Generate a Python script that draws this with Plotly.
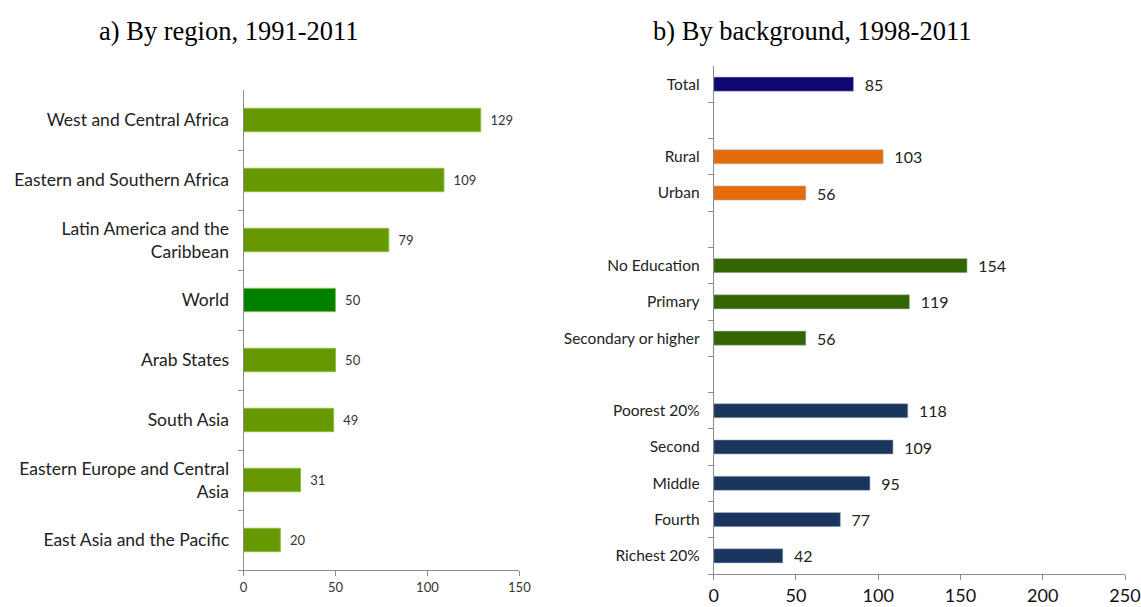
import plotly.graph_objects as go

# ---- data ----
region_names = ["West and Central Africa", "Eastern and Southern Africa", "Latin America and the Caribbean",
                "World", "Arab States", "South Asia", "Eastern Europe and Central Asia", "East Asia and the Pacific"]
region_labels = ["West and Central Africa", "Eastern and Southern Africa", "Latin America and the<br>Caribbean",
                 "World", "Arab States", "South Asia", "Eastern Europe and Central<br>Asia", "East Asia and the Pacific"]
region_values = [129, 109, 79, 50, 50, 49, 31, 20]
region_colors = ["#669900", "#669900", "#669900", "#008000", "#669900", "#669900", "#669900", "#669900"]

bg_names = ["Total", "gap1", "Rural", "Urban", "gap2", "No Education", "Primary", "Secondary or higher",
            "gap3", "Poorest 20%", "Second", "Middle", "Fourth", "Richest 20%"]
bg_labels = ["Total", "", "Rural", "Urban", "", "No Education", "Primary", "Secondary or higher",
             "", "Poorest 20%", "Second", "Middle", "Fourth", "Richest 20%"]
bg_cats = ["Total", "Rural", "Urban", "No Education", "Primary", "Secondary or higher",
           "Poorest 20%", "Second", "Middle", "Fourth", "Richest 20%"]
bg_values = [85, 103, 56, 154, 119, 56, 118, 109, 95, 77, 42]
bg_colors = ["#0f0873", "#e46c0a", "#e46c0a", "#336600", "#336600", "#336600",
             "#1b365d", "#1b365d", "#1b365d", "#1b365d", "#1b365d"]

W, H = 1141, 607
def fx(p): return min(1.0, p / W)
def py(p): return 1 - p / H

fig = go.Figure()
fig.add_trace(go.Bar(
    x=region_values, y=region_names, orientation="h",
    marker=dict(color=region_colors, line=dict(color="#8cbf3f", width=1)),
    text=[f"  {v}" for v in region_values], textposition="outside", constraintext="none",
    textfont=dict(family="Lato", size=13, color="#333333"),
    cliponaxis=False, xaxis="x", yaxis="y", showlegend=False, hoverinfo="skip",
))
fig.add_trace(go.Bar(
    x=bg_values, y=bg_cats, orientation="h",
    marker=dict(color=bg_colors, line=dict(color="#b0b8c8", width=0.6)),
    text=[f"  {v}" for v in bg_values], textposition="outside", constraintext="none",
    textfont=dict(family="Lato", size=16, color="#222222"),
    cliponaxis=False, xaxis="x2", yaxis="y2", showlegend=False, hoverinfo="skip",
))
# blank spacer categories on the right axis (no bars drawn)
fig.add_trace(go.Bar(x=[None, None, None], y=["gap1", "gap2", "gap3"], orientation="h",
                     xaxis="x2", yaxis="y2", showlegend=False, hoverinfo="skip"))

axis_line = dict(showline=True, linecolor="#8c8c8c", linewidth=1, showgrid=False, zeroline=False,
                 ticks="outside", ticklen=5, tickcolor="#8c8c8c")

fig.update_layout(
    width=W, height=H, plot_bgcolor="white", paper_bgcolor="white",
    margin=dict(l=0, r=0, t=0, b=0), bargap=0.61,
    xaxis=dict(domain=[fx(243), fx(524)], range=[0, 150], tickvals=[0, 50, 100, 150],
               anchor="y", tickfont=dict(family="Lato", size=13, color="#333333"), **axis_line),
    yaxis=dict(domain=[py(570), py(90)], anchor="x", type="category",
               categoryorder="array", categoryarray=region_names[::-1],
               tickvals=region_names, ticktext=region_labels, tickson="boundaries",
               ticklabelstandoff=10,
               tickfont=dict(family="Lato", size=17.5, color="#222222"), **axis_line),
    xaxis2=dict(domain=[fx(722), fx(1141)], range=[0, 250], tickvals=[0, 50, 100, 150, 200, 250],
                anchor="y2", ticklabeloverflow="allow",
                tickfont=dict(family="Lato", size=18, color="#111111"), **axis_line),
    yaxis2=dict(domain=[py(574), py(66)], anchor="x2", type="category",
                categoryorder="array", categoryarray=bg_names[::-1],
                tickvals=bg_names, ticktext=bg_labels, tickson="boundaries",
                ticklabelstandoff=10,
                tickfont=dict(family="Lato", size=15.5, color="#222222"), **axis_line),
    annotations=[
        dict(text="a) By region, 1991-2011", x=fx(227.7), y=py(31), xref="paper", yref="paper",
             showarrow=False, xanchor="center", yanchor="middle",
             font=dict(family="Liberation Serif", size=26.5, color="#000000")),
        dict(text="b) By background, 1998-2011", x=fx(822), y=py(31), xref="paper", yref="paper",
             showarrow=False, xanchor="center", yanchor="middle",
             font=dict(family="Liberation Serif", size=26.5, color="#000000")),
    ],
)

fig.write_html(
    "out.html",
    config={"responsive": False, "displayModeBar": False},
    post_script="document.body.style.margin='0';document.body.style.overflow='hidden';"
                "document.documentElement.style.overflow='hidden';",
)
